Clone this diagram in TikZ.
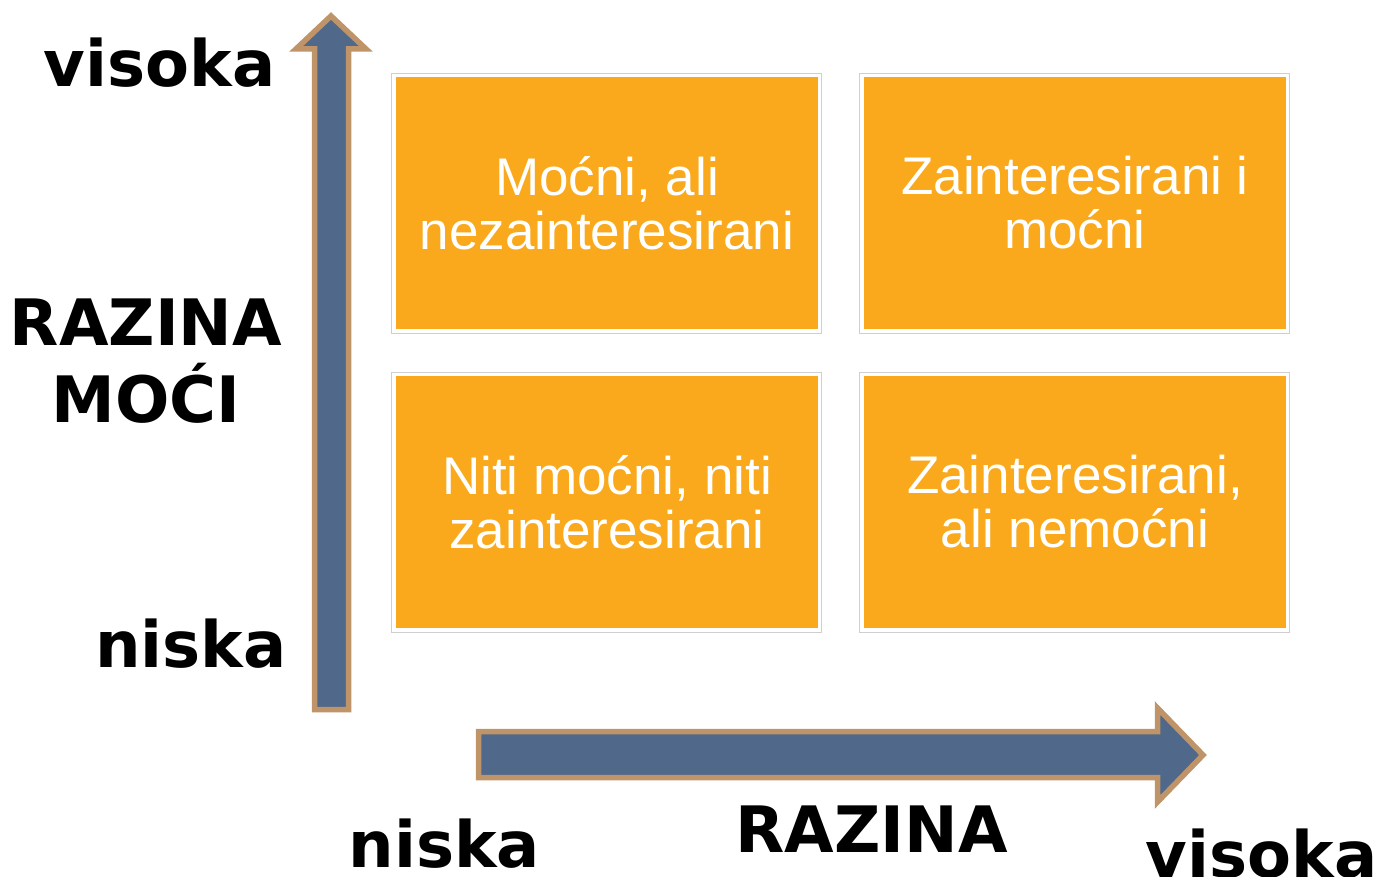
\documentclass[tikz,border=0pt]{standalone}
\usepackage{fontspec}
\setmainfont{Liberation Sans}
\newfontfamily\labfont{DejaVu Sans}
\definecolor{qorange}{HTML}{F9A91B}
\definecolor{qblue}{HTML}{506889}
\definecolor{qbrown}{HTML}{BE9468}
\definecolor{qframe}{HTML}{CFCFCF}
\begin{document}
\begin{tikzpicture}[x=1pt,y=-1pt,
  qbox/.style={fill=qorange, inner sep=0pt, minimum width=422pt, minimum height=252pt,
    text=white, align=center, font=\fontsize{53}{54}\selectfont},
  qframe/.style={draw=qframe, line width=1.4pt, fill=white},
  axarrow/.style={draw=qbrown, fill=qblue, line width=5.5pt, line join=miter},
  axlab/.style={font=\labfont\bfseries\fontsize{64}{77}\selectfont, text=black, anchor=base, inner sep=0pt, align=center}
]
\useasboundingbox (0,0) rectangle (1378,877);
% frames
\draw[qframe] (391.5,73.5) rectangle (821.5,333.5);
\draw[qframe] (859.5,73.5) rectangle (1289.5,333.5);
\draw[qframe] (391.5,372.5) rectangle (821.5,632.5);
\draw[qframe] (859.5,372.5) rectangle (1289.5,632.5);
% boxes
\node[qbox] (b1) at (607,203) {Moćni, ali\\nezainteresirani};
\node[qbox] (b2) at (1075,203) {Zainteresirani i\\moćni};
\node[qbox] (b3) at (607,502) {Niti moćni, niti\\zainteresirani};
\node[qbox] (b4) at (1075,502) {Zainteresirani,\\ali nemoćni};
% vertical arrow
\draw[axarrow] (331,16) -- (366,49) -- (348.5,49) -- (348.5,709.5) -- (314.5,709.5) -- (314.5,49) -- (296,49) -- cycle;
% horizontal arrow
\draw[axarrow] (478.5,731.5) -- (1157.5,731.5) -- (1157.5,708) -- (1203,755) -- (1157.5,802) -- (1157.5,777.5) -- (478.5,777.5) -- cycle;
% labels
\node[axlab] (vhigh) at (159.5,87) {visoka};
\node[axlab] (moc) at (146,422) {RAZINA\\MOĆI};
\node[axlab] (vlow) at (191,667) {niska};
\node[axlab] (hlow) at (444.5,867) {niska};
\node[axlab] (hraz) at (871.5,852) {RAZINA};
\node[axlab] (hhigh) at (1261.5,877) {visoka};
\end{tikzpicture}
\end{document}
